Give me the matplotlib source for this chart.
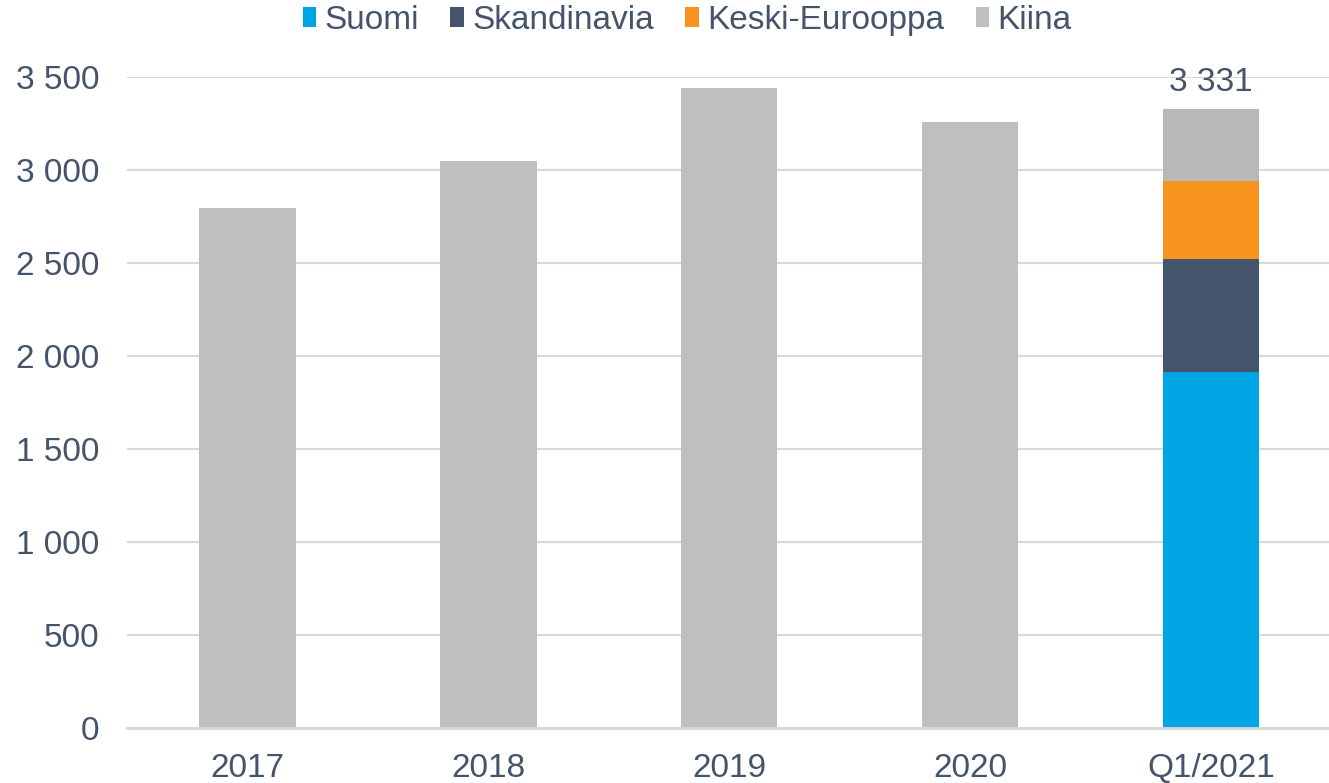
import matplotlib.pyplot as plt
from matplotlib.patches import Patch
from matplotlib.ticker import FuncFormatter

plt.rcParams['font.family'] = ['Liberation Sans', 'DejaVu Sans']

# Data
categories = ['2017', '2018', '2019', '2020', 'Q1/2021']
year_totals = [2798, 3052, 3443, 3262]
q1_regions = ['Suomi', 'Skandinavia', 'Keski-Eurooppa', 'Kiina']
q1_values = [1916, 607, 420, 388]

colors = {'Suomi': '#00A6E3', 'Skandinavia': '#44546A',
          'Keski-Eurooppa': '#F7941D', 'Kiina': '#BFBFBF'}
text_color = '#44546A'
grid_color = '#D9D9D9'

fig = plt.figure(figsize=(13.29, 7.83), dpi=100)
ax = fig.add_axes([0.0956, 0.0699, 0.9044, 0.8314])

width = 0.4
# full-year bars
ax.bar(range(len(year_totals)), year_totals, width=width, color=colors['Kiina'], zorder=3)

# Q1 stacked bar
q1_x = len(year_totals)
bottom = 0
for name, val in zip(q1_regions, q1_values):
    c = '#B8B8B8' if name == 'Kiina' else colors[name]
    ax.bar(q1_x, val, width=width, bottom=bottom, color=c, zorder=3)
    bottom += val

total_q1 = sum(q1_values)
ax.text(q1_x, total_q1 + 60, f'{total_q1:,}'.replace(',', ' '), ha='center', va='bottom',
        fontsize=24, color=text_color)

ax.set_xlim(-0.5, 4.49)
ax.set_ylim(0, 3500)
ax.set_yticks(range(0, 3501, 500))
ax.yaxis.set_major_formatter(FuncFormatter(lambda v, p: f'{int(v):,}'.replace(',', ' ')))
ax.set_xticks(range(len(categories)))
ax.set_xticklabels(categories)

ax.tick_params(axis='both', length=0, labelsize=24, labelcolor=text_color)
ax.tick_params(axis='y', pad=20)
ax.tick_params(axis='x', pad=18)

ax.grid(axis='y', color=grid_color, linewidth=1.5, zorder=0)
for s in ['top', 'right', 'left']:
    ax.spines[s].set_visible(False)
ax.spines['bottom'].set_color(grid_color)
ax.spines['bottom'].set_linewidth(2)
ax.spines['bottom'].set_zorder(4)

handles = [Patch(facecolor=colors[n], edgecolor='none', label=n) for n in q1_regions]
fig.legend(handles=handles, loc='center', bbox_to_anchor=(0.517, 0.974), ncol=4,
           frameon=False, fontsize=24, labelcolor=text_color,
           handlelength=0.4, handleheight=0.55, handletextpad=0.25, columnspacing=0.95)

fig.savefig('out.png', dpi=100)
